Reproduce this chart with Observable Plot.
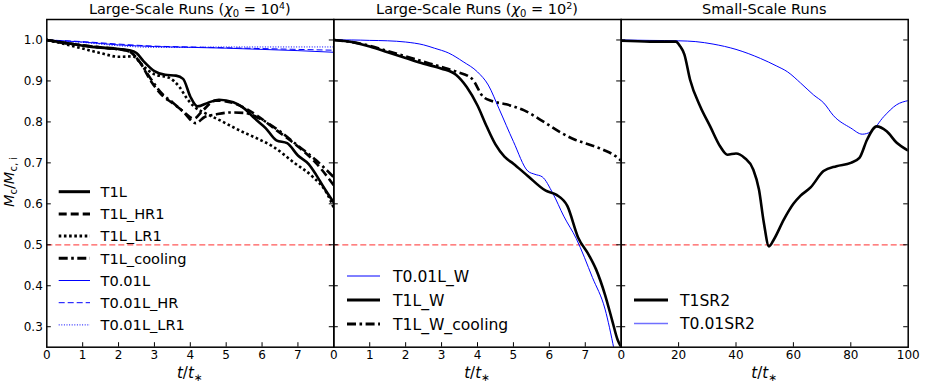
<!DOCTYPE html>
<html>
<head>
<meta charset="utf-8">
<script src="https://cdn.jsdelivr.net/npm/d3@7"></script>
<script src="https://cdn.jsdelivr.net/npm/@observablehq/plot@0.6"></script>
<style>
  html, body { margin: 0; padding: 0; background: #fff; }
  #wrap { position: relative; width: 926px; height: 386px; overflow: hidden; font-family: "DejaVu Sans", sans-serif; }
  #wrap > div { position: absolute; top: 0; }
  #overlay { position: absolute; left: 0; top: 0; pointer-events: none; }
</style>
</head>
<body>
<div id="wrap"></div>
<script>
// ---------------- DATA ----------------
const threshold = 0.5;
const yTickVals = [0.3, 0.4, 0.5, 0.6, 0.7, 0.8, 0.9, 1.0];

// Panel 1: Large-Scale Runs (chi0 = 1e4)
const p1XTickLabels = [0, 1, 2, 3, 4, 5, 6, 7];
const p1XTickMarks = [1, 2, 3, 4, 5, 6, 7];
const t_T1L = [0, 0.5, 1, 1.5, 2, 2.3, 2.5, 2.7, 3, 3.3, 3.6, 3.8, 4, 4.2, 4.5, 4.8, 5.2, 5.5, 5.8, 6.1, 6.4, 6.7, 7, 7.3, 7.5, 7.7, 8];
const m_T1L = [1, 0.993, 0.986, 0.981, 0.978, 0.975, 0.968, 0.948, 0.924, 0.915, 0.913, 0.905, 0.862, 0.838, 0.847, 0.854, 0.848, 0.833, 0.808, 0.785, 0.755, 0.748, 0.718, 0.697, 0.672, 0.643, 0.603];
const t_T1L_HR1 = [0, 0.5, 1, 1.5, 2, 2.3, 2.6, 2.9, 3.2, 3.5, 3.8, 4.1, 4.35, 4.7, 5.2, 5.6, 5.9, 6.4, 7, 7.5, 8];
const m_T1L_HR1 = [1, 0.993, 0.987, 0.982, 0.978, 0.972, 0.945, 0.9, 0.866, 0.846, 0.826, 0.808, 0.828, 0.852, 0.846, 0.83, 0.813, 0.78, 0.74, 0.70, 0.645];
const t_T1L_LR1 = [0, 0.5, 1, 1.5, 2, 2.4, 2.7, 3.0, 3.4, 3.7, 3.9, 4.1, 4.4, 4.8, 5.4, 5.9, 6.3, 6.9, 7.4, 7.8, 8];
const m_T1L_LR1 = [1, 0.99, 0.979, 0.968, 0.959, 0.96, 0.935, 0.916, 0.908, 0.885, 0.858, 0.838, 0.822, 0.805, 0.778, 0.758, 0.74, 0.70, 0.667, 0.627, 0.59];
const t_T1L_cool = [0, 0.5, 1, 1.5, 2, 2.3, 2.6, 2.9, 3.2, 3.5, 3.8, 4.15, 4.4, 4.7, 5.1, 5.5, 6, 6.5, 7, 7.5, 8];
const m_T1L_cool = [1, 0.993, 0.987, 0.982, 0.977, 0.972, 0.945, 0.905, 0.87, 0.848, 0.825, 0.797, 0.812, 0.818, 0.823, 0.822, 0.805, 0.777, 0.742, 0.707, 0.665];
const t_blue1 = [0, 1, 2, 3, 4, 5, 6, 7, 8];
const m_T001L = [1, 0.995, 0.988, 0.984, 0.982, 0.98, 0.977, 0.974, 0.97];
const m_T001L_HR = [1, 0.996, 0.99, 0.985, 0.983, 0.981, 0.979, 0.977, 0.975];
const m_T001L_LR1 = [1, 0.994, 0.986, 0.982, 0.982, 0.983, 0.983, 0.983, 0.983];

// Panel 2: Large-Scale Runs (chi0 = 1e2)
const p2XTickLabels = [0, 1, 2, 3, 4, 5, 6, 7];
const p2XTickMarks = [1, 2, 3, 4, 5, 6, 7];
const t_T001L_W = [0, 0.5, 1, 1.5, 2, 2.5, 2.8, 3.2, 3.6, 4, 4.3, 4.6, 5.0, 5.4, 5.6, 5.8, 6.1, 6.4, 6.75, 7.2, 7.55, 7.8, 7.9];
const m_T001L_W = [1, 1.0, 0.999, 0.998, 0.995, 0.988, 0.98, 0.968, 0.947, 0.922, 0.89, 0.832, 0.752, 0.68, 0.672, 0.666, 0.625, 0.57, 0.515, 0.42, 0.343, 0.245, 0.2];
const t_T1L_W = [0, 0.5, 1, 1.5, 2, 2.5, 3, 3.4, 3.7, 4, 4.25, 4.5, 4.75, 5, 5.4, 5.9, 6.2, 6.5, 6.8, 7.1, 7.3, 7.55, 7.75, 7.9, 8];
const m_T1L_W = [1, 0.995, 0.984, 0.97, 0.956, 0.942, 0.93, 0.915, 0.885, 0.84, 0.79, 0.745, 0.715, 0.698, 0.668, 0.632, 0.622, 0.595, 0.518, 0.475, 0.44, 0.378, 0.315, 0.268, 0.25];
const t_T1L_W_cool = [0, 0.5, 1, 1.5, 2, 2.5, 3, 3.4, 3.85, 4.15, 4.4, 4.8, 5.3, 5.9, 6.3, 6.7, 7.1, 7.5, 7.85, 8];
const m_T1L_W_cool = [1, 0.995, 0.986, 0.973, 0.96, 0.947, 0.934, 0.923, 0.905, 0.862, 0.851, 0.843, 0.828, 0.797, 0.775, 0.757, 0.745, 0.732, 0.716, 0.705];

// Panel 3: Small-Scale Runs
const p3XTickLabels = [0, 20, 40, 60, 80, 100];
const p3XTickMarks = [20, 40, 60, 80];
const t_T1SR2 = [0, 10, 19, 20.5, 22, 24, 27.5, 31, 34.5, 37, 40, 43, 46, 48, 49.7, 51.5, 53.2, 56.7, 60, 62.5, 66, 70.5, 75, 80, 83, 85.7, 89, 92.5, 96, 100];
const m_T1SR2 = [0.998, 0.996, 0.996, 0.985, 0.965, 0.903, 0.838, 0.789, 0.74, 0.72, 0.723, 0.712, 0.684, 0.635, 0.554, 0.496, 0.513, 0.562, 0.6, 0.62, 0.64, 0.68, 0.692, 0.70, 0.712, 0.757, 0.789, 0.777, 0.749, 0.73];
const t_T001SR2 = [0, 10, 20, 26, 32, 40, 48.5, 54, 58, 62.5, 67, 70.6, 74, 80, 84, 87, 91.5, 96, 100];
const m_T001SR2 = [1.0, 0.999, 0.998, 0.996, 0.99, 0.977, 0.955, 0.937, 0.922, 0.895, 0.866, 0.846, 0.815, 0.785, 0.77, 0.776, 0.813, 0.842, 0.852];

// text
const titles = ["Large-Scale Runs", "Large-Scale Runs", "Small-Scale Runs"];
const titleChiExp = ["4", "2", null];
const legend1 = ["T1L", "T1L_HR1", "T1L_LR1", "T1L_cooling", "T0.01L", "T0.01L_HR", "T0.01L_LR1"];
const legend2 = ["T0.01L_W", "T1L_W", "T1L_W_cooling"];
const legend3 = ["T1SR2", "T0.01SR2"];

// ---------------- STYLES ----------------
const S = {
  solid:   {stroke: "#000", width: 2.6, dash: null},
  dashed:  {stroke: "#000", width: 2.6, dash: "8,4"},
  dotted:  {stroke: "#000", width: 2.6, dash: "2.6,2.6"},
  dashdot: {stroke: "#000", width: 2.6, dash: "9,3.5,2.6,3.5"},
  bsolid:  {stroke: "#0000ff", width: 1, dash: null},
  bdashed: {stroke: "#0000ff", width: 1, dash: "6,3"},
  bdotted: {stroke: "#0000ff", width: 1, dash: "1,1.6"}
};
const zipData = (t, m) => t.map((x, i) => ({t: x, m: m[i]}));

const H = 386, mT = 19, mB = 39.3;
const yDomain = [0.25, 1.05];

const panels = [
  {left: 0, width: 334, mL: 46.3, mR: 0.7, xDomain: [0, 8], xLabels: p1XTickLabels, xMarks: p1XTickMarks, showY: true,
   series: [
     [t_blue1, m_T001L_LR1, S.bdotted], [t_blue1, m_T001L_HR, S.bdashed], [t_blue1, m_T001L, S.bsolid],
     [t_T1L_LR1, m_T1L_LR1, S.dotted], [t_T1L_cool, m_T1L_cool, S.dashdot], [t_T1L_HR1, m_T1L_HR1, S.dashed], [t_T1L, m_T1L, S.solid]
   ]},
  {left: 333, width: 288, mL: 0.3, mR: 0.3, xDomain: [0, 8], xLabels: p2XTickLabels, xMarks: p2XTickMarks, showY: false,
   series: [
     [t_T1L_W_cool, m_T1L_W_cool, S.dashdot], [t_T001L_W, m_T001L_W, S.bsolid], [t_T1L_W, m_T1L_W, S.solid]
   ]},
  {left: 620, width: 306, mL: 0.7, mR: 18.3, xDomain: [0, 100], xLabels: p3XTickLabels, xMarks: p3XTickMarks, showY: false,
   series: [
     [t_T001SR2, m_T001SR2, S.bsolid], [t_T1SR2, m_T1SR2, S.solid]
   ]}
];

const wrap = document.getElementById("wrap");
panels.forEach(p => {
  const plotW = p.width - p.mL - p.mR;
  const plotH = H - mT - mB;
  const marks = [
    Plot.ruleY([threshold], {y: d => d, stroke: "#ff3b3b", strokeOpacity: 0.85, strokeWidth: 1.2, strokeDasharray: "6,3"}),
    ...p.series.map(([t, m, st]) => Plot.line(zipData(t, m), {
      x: "t", y: "m", stroke: st.stroke, strokeWidth: st.width,
      strokeDasharray: st.dash || undefined, curve: "monotone-x", clip: true, strokeLinecap: "butt"
    })),
    Plot.ruleY(yTickVals, {y: d => d, insetRight: plotW - 4.5, stroke: "#000", strokeWidth: 1}),
    Plot.ruleY(yTickVals, {y: d => d, insetLeft: plotW - 4.5, stroke: "#000", strokeWidth: 1}),
    Plot.ruleX(p.xMarks, {x: d => d, insetTop: plotH - 4.5, stroke: "#000", strokeWidth: 1}),
    Plot.axisX(p.xLabels, {tickSize: 0, tickPadding: 3, label: null, fontSize: 12, tickFormat: d => String(d)}),
    p.showY ? Plot.axisY(yTickVals, {tickSize: 0, tickPadding: 4, label: null, fontSize: 12, tickFormat: d => d.toFixed(1)}) : null,
    Plot.frame({stroke: "#000", strokeWidth: 1.5})
  ];
  const svg = Plot.plot({
    width: p.width, height: H,
    marginLeft: p.mL, marginRight: p.mR, marginTop: mT, marginBottom: mB,
    x: {domain: p.xDomain, axis: null},
    y: {domain: yDomain, axis: null},
    style: {fontFamily: "DejaVu Sans", fontSize: "12px", background: "transparent", overflow: "visible", color: "#000"},
    marks
  });
  const div = document.createElement("div");
  div.style.left = p.left + "px";
  div.appendChild(svg);
  wrap.appendChild(div);
});

// ---------------- OVERLAY: titles, axis labels, legends ----------------
const ov = d3.select(wrap).append("svg").attr("id", "overlay").attr("width", 926).attr("height", 386)
  .style("font-family", "DejaVu Sans");
const centers = panels.map(p => p.left + p.mL + (p.width - p.mL - p.mR) / 2);

titles.forEach((tt, i) => {
  const t = ov.append("text").attr("x", centers[i]).attr("y", 13.8).attr("text-anchor", "middle")
    .attr("font-size", 14.5).attr("fill", "#000");
  t.append("tspan").text(tt);
  if (titleChiExp[i]) {
    t.append("tspan").text(" (");
    t.append("tspan").attr("font-style", "italic").text("χ");
    t.append("tspan").attr("font-size", 10).attr("dy", 3).text("0");
    t.append("tspan").attr("dy", -3).text(" = 10");
    t.append("tspan").attr("font-size", 9.5).attr("dy", -4.5).text(titleChiExp[i]);
    t.append("tspan").attr("dy", 4.5).text(")");
  }
  const xl = ov.append("text").attr("x", centers[i]).attr("y", 378).attr("text-anchor", "middle")
    .attr("font-size", 15).attr("fill", "#000");
  xl.append("tspan").attr("font-style", "italic").text("t");
  xl.append("tspan").text("/");
  xl.append("tspan").attr("font-style", "italic").text("t");
  xl.append("tspan").attr("font-size", 10.5).attr("dy", 3).text("∗");
});

// y label
const yl = ov.append("text").attr("transform", "translate(14,182) rotate(-90)").attr("text-anchor", "middle")
  .attr("font-size", 14.5).attr("fill", "#000");
yl.append("tspan").attr("font-style", "italic").text("M");
yl.append("tspan").attr("font-size", 10).attr("dy", 3).text("c");
yl.append("tspan").attr("dy", -3).text("/");
yl.append("tspan").attr("font-style", "italic").text("M");
yl.append("tspan").attr("font-size", 10).attr("dy", 3).text("c, i");

function drawLegend(names, styles, x0, x1, xt, y0, step, fs, widths, colors) {
  names.forEach((n, i) => {
    const y = y0 + i * step;
    const st = styles[i];
    ov.append("line").attr("x1", x0).attr("x2", x1).attr("y1", y).attr("y2", y)
      .attr("stroke", colors ? colors[i] : st.stroke).attr("stroke-width", widths ? widths[i] : (st.width > 2 ? 3 : 1))
      .attr("stroke-dasharray", st.dash || null);
    ov.append("text").attr("x", xt).attr("y", y).attr("dy", "0.36em").attr("font-size", fs).attr("fill", "#000").text(n);
  });
}
drawLegend(legend1, [S.solid, S.dashed, S.dotted, S.dashdot, S.bsolid, S.bdashed, S.bdotted], 58.7, 90, 100.5, 191.7, 22.2, 14.6);
drawLegend(legend2, [S.bsolid, S.solid, S.dashdot], 347, 380, 393, 276, 24, 15.6);
drawLegend(legend3, [S.solid, S.bsolid], 634, 668, 680, 300, 23.5, 15.6, [3, 1.3], ["#000", "#7070ff"]);
</script>
</body>
</html>
